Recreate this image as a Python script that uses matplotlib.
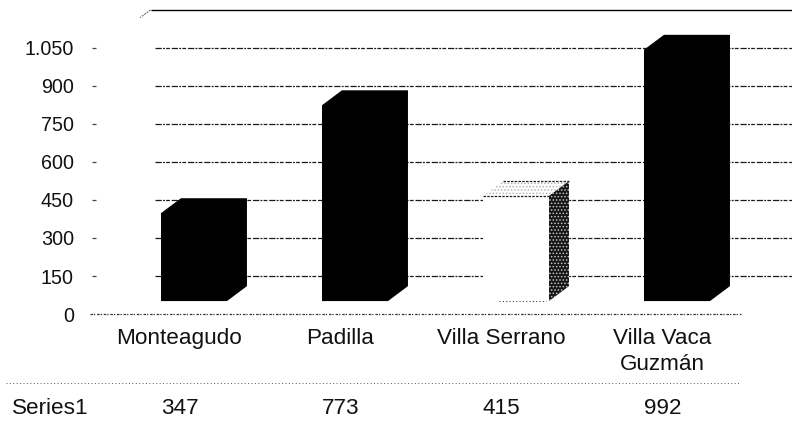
import matplotlib

matplotlib.use("Agg")
import matplotlib.pyplot as plt  # noqa: E402
from matplotlib.patches import Polygon  # noqa: E402
from matplotlib.transforms import blended_transform_factory  # noqa: E402

categories = ["Monteagudo", "Padilla", "Villa Serrano", "Villa Vaca\nGuzmán"]
values = [347, 773, 415, 992]
y_ticks = [0, 150, 300, 450, 600, 750, 900, 1050]
y_labels = ["0", "150", "300", "450", "600", "750", "900", "1.050"]
series_name = "Series1"

W, H = 792, 425
LEFT, RIGHT, BOTTOM, TOP = 99, 743, 314, 10  # plot box, in pixels

# 3d look of the bars, in data units
BAR_LEFT = -0.115
BAR_W = 0.41
DEPTH_X = 0.124
DEPTH_Y = 59
FLOOR = 51

plt.rcParams["font.family"] = ["Liberation Sans", "DejaVu Sans"]
plt.rcParams["hatch.linewidth"] = 0.7

fig = plt.figure(figsize=(W / 100, H / 100), dpi=100)
ax = fig.add_axes([LEFT / W, 1 - BOTTOM / H, (RIGHT - LEFT) / W, (BOTTOM - TOP) / H])
ax.set_xlim(-0.5, 3.5)
ax.set_ylim(0, 1200)
for s in ax.spines.values():
    s.set_visible(False)

dots = (0, (5, 1, 1.5, 1, 3, 1.5))
# back wall gridlines run on past the right edge of the plot
ax.hlines(y_ticks[1:], -0.152, 3.81, color="#1a1a1a", lw=0.9, ls=dots, clip_on=False, zorder=1)
ax.hlines(1200, -0.18, 3.81, color="black", lw=1.0, clip_on=False, zorder=1)
ax.plot([-0.18, -0.245], [1200, 1170], color="#555555", lw=0.7, ls=(0, (2, 1)), clip_on=False)
# floor line and small tick stubs
ax.hlines(0, -0.556, 3.49, color="#333333", lw=0.9, ls=(0, (2, 0.8, 1, 1.5)), clip_on=False, zorder=1)
ax.hlines(y_ticks[1:], -0.545, -0.52, color="#444444", lw=0.9, clip_on=False)

for i, v in enumerate(values):
    x0 = i + BAR_LEFT
    x1 = x0 + BAR_W
    y0 = FLOOR
    y1 = FLOOR + v
    if i != 2:
        # dark bars read as one solid shape
        ax.bar(x0, v, width=BAR_W, bottom=y0, align="edge", zorder=3, color="black", lw=0)
        ax.add_patch(Polygon([(x0, y0), (x0, y1), (x0 + DEPTH_X, y1 + DEPTH_Y),
                              (x1 + DEPTH_X, y1 + DEPTH_Y), (x1 + DEPTH_X, y0 + DEPTH_Y), (x1, y0)],
                             closed=True, zorder=3, facecolor="black", lw=0))
        continue
    ax.bar(x0, v, width=BAR_W, bottom=y0, align="edge", zorder=3, color="white", lw=0)
    ax.add_patch(Polygon([(x0, y1), (x0 + DEPTH_X, y1 + DEPTH_Y), (x1 + DEPTH_X, y1 + DEPTH_Y), (x1, y1)],
                         closed=True, zorder=3, facecolor="white", edgecolor="#b5b5b5",
                         lw=0, hatch="....."))
    ax.add_patch(Polygon([(x1, y0), (x1 + DEPTH_X, y0 + DEPTH_Y), (x1 + DEPTH_X, y1 + DEPTH_Y), (x1, y1)],
                         closed=True, zorder=3, facecolor="#151515", edgecolor="#c8c8c8",
                         lw=0, hatch="....."))
    # scanned outline of the pale bar
    ax.plot([x0 + DEPTH_X, x1 + DEPTH_X], [y1 + DEPTH_Y] * 2, color="#222222", lw=0.9,
            ls=(0, (2, 1)), zorder=4)
    ax.plot([x0, x1], [y1, y1], color="#222222", lw=0.9, ls=(0, (2, 1)), zorder=4)
    ax.plot([x0 + 0.1, x1 - 0.02], [y0, y0], color="#444444", lw=0.8, ls=(0, (1, 2)), zorder=4)

ax.set_yticks(y_ticks, y_labels, fontsize=14.2, color="#111111")
ax.tick_params(axis="y", length=0, pad=18)
ax.set_xticks(range(len(categories)), categories, fontsize=16.2, color="#111111", linespacing=1.3)
ax.tick_params(axis="x", length=0, pad=10)

# data row underneath the chart
trans = blended_transform_factory(ax.transData, ax.transAxes)
row_y = (BOTTOM - 408) / (BOTTOM - TOP)
ax.text(-1.04, row_y, series_name, transform=trans, fontsize=16.2, va="center", ha="left", color="#111111")
for i, v in enumerate(values):
    ax.text(i, row_y, str(v), transform=trans, fontsize=16.2, va="center", ha="center", color="#111111")
line_y = (BOTTOM - 383) / (BOTTOM - TOP)
ax.plot([-1.08, 3.49], [line_y, line_y], transform=trans, color="#555555", lw=0.7,
        ls=(0, (1, 2.5)), clip_on=False)

fig.savefig("out.png", dpi=100)
plt.close(fig)
